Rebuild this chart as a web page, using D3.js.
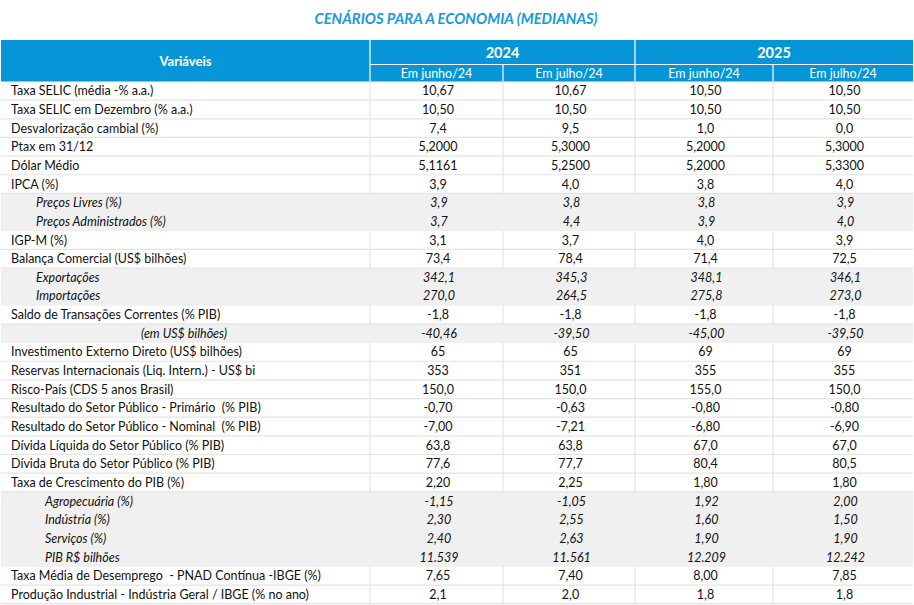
<!DOCTYPE html>
<html><head><meta charset="utf-8">
<script src="https://cdn.jsdelivr.net/npm/d3@7"></script>
<style>body{margin:0;background:#fff}svg{display:block}</style>
</head><body>
<svg id="c" width="914" height="605"></svg>
<script>
const title = "CENÁRIOS PARA A ECONOMIA (MEDIANAS)";
const years = ["2024", "2025"];
const subHeaders = ["Em junho/24", "Em julho/24", "Em junho/24", "Em julho/24"];
const labels = [
  "Taxa SELIC (média -% a.a.)",
  "Taxa SELIC em Dezembro (% a.a.)",
  "Desvalorização cambial (%)",
  "Ptax em 31/12",
  "Dólar Médio",
  "IPCA (%)",
  "Preços Livres (%)",
  "Preços Administrados (%)",
  "IGP-M (%)",
  "Balança Comercial (US$ bilhões)",
  "Exportações",
  "Importações",
  "Saldo de Transações Correntes (% PIB)",
  "(em US$ bilhões)",
  "Investimento Externo Direto (US$ bilhões)",
  "Reservas Internacionais (Liq. Intern.) - US$ bi",
  "Risco-País (CDS 5 anos Brasil)",
  "Resultado do Setor Público - Primário  (% PIB)",
  "Resultado do Setor Público - Nominal  (% PIB)",
  "Dívida Líquida do Setor Público (% PIB)",
  "Dívida Bruta do Setor Público (% PIB)",
  "Taxa de Crescimento do PIB (%)",
  "Agropecuária (%)",
  "Indústria (%)",
  "Serviços (%)",
  "PIB R$ bilhões",
  "Taxa Média de Desemprego  - PNAD Contínua -IBGE (%)",
  "Produção Industrial - Indústria Geral / IBGE (% no ano)"
];
// indent level: 0 main, 1 sub (italic), 2 sub deeper (italic), 3 far indent (italic)
const rowKind = [0,0,0,0,0,0,1,1,0,0,1,1,0,3,0,0,0,0,0,0,0,0,2,2,2,2,0,0];
const col2024Jun = ["10,67","10,50","7,4","5,2000","5,1161","3,9","3,9","3,7","3,1","73,4","342,1","270,0","-1,8","-40,46","65","353","150,0","-0,70","-7,00","63,8","77,6","2,20","-1,15","2,30","2,40","11.539","7,65","2,1"];
const col2024Jul = ["10,67","10,50","9,5","5,3000","5,2500","4,0","3,8","4,4","3,7","78,4","345,3","264,5","-1,8","-39,50","65","351","150,0","-0,63","-7,21","63,8","77,7","2,25","-1,05","2,55","2,63","11.561","7,40","2,0"];
const col2025Jun = ["10,50","10,50","1,0","5,2000","5,2000","3,8","3,8","3,9","4,0","71,4","348,1","275,8","-1,8","-45,00","69","355","155,0","-0,80","-6,80","67,0","80,4","1,80","1,92","1,60","1,90","12.209","8,00","1,8"];
const col2025Jul = ["10,50","10,50","0,0","5,3000","5,3300","4,0","3,9","4,0","3,9","72,5","346,1","273,0","-1,8","-39,50","69","355","150,0","-0,80","-6,90","67,0","80,5","1,80","2,00","1,50","1,90","12.242","7,85","1,8"];
const valueCols = [col2024Jun, col2024Jul, col2025Jun, col2025Jul];

const svg = d3.select("#c");
const FONT = "Lato, 'Open Sans', sans-serif";
const BLUE = "#0696d7";
const GRID = "#e4e4e4";
const SHADE = "#f0f0f0";

const left = 1, right = 913;
const colEdges = [left, 370, 503, 635, 773, right];
const headTop = 40, headMid = 64.5, headBot = 81.5;
const rowH = 18.65;

const y = d3.scaleBand().domain(d3.range(labels.length)).range([headBot, headBot + rowH*labels.length]).paddingInner(0).paddingOuter(0);

// title
svg.append("text").attr("x", 456).attr("y", 24).attr("text-anchor","middle")
  .attr("font-family", FONT).attr("font-size", 14.8).attr("font-weight","bold").attr("font-style","italic")
  .attr("fill", "#1a9ad6").text(title);

// header
svg.append("rect").attr("x", left).attr("y", headTop).attr("width", right-left).attr("height", headBot-headTop).attr("fill", BLUE);
const hl = svg.append("g").attr("stroke","#fff").attr("stroke-width",1.2);
[370, 635].forEach(x => hl.append("line").attr("x1",x).attr("x2",x).attr("y1",headTop).attr("y2",headBot));
[503, 773].forEach(x => hl.append("line").attr("x1",x).attr("x2",x).attr("y1",headMid).attr("y2",headBot));
hl.append("line").attr("x1",370).attr("x2",right).attr("y1",headMid).attr("y2",headMid);

svg.append("text").attr("x",(left+370)/2).attr("y",66).attr("text-anchor","middle")
  .attr("font-family",FONT).attr("font-size",13).attr("font-weight","bold").attr("fill","#fff").text("Variáveis");
years.forEach((yr,i)=>{
  svg.append("text").attr("x",(colEdges[1+2*i]+colEdges[3+2*i])/2).attr("y",58).attr("text-anchor","middle")
    .attr("font-family",FONT).attr("font-size",14.5).attr("font-weight","bold").attr("fill","#fff").text(yr);
});
subHeaders.forEach((s,i)=>{
  svg.append("text").attr("x",(colEdges[1+i]+colEdges[2+i])/2).attr("y",77.5).attr("text-anchor","middle")
    .attr("font-family",FONT).attr("font-size",12.5).attr("fill","#fff").text(s);
});

// shading
const rows = svg.append("g");
labels.forEach((lab,i)=>{
  if (rowKind[i] > 0) rows.append("rect").attr("x",left).attr("y",y(i)).attr("width",right-left).attr("height",y.bandwidth()+0.5).attr("fill",SHADE);
});

// grid lines for non-shaded rows
const grid = svg.append("g").attr("stroke",GRID).attr("stroke-width",1.2);
labels.forEach((lab,i)=>{
  if (rowKind[i] === 0) {
    colEdges.slice(1,5).forEach(x => grid.append("line").attr("x1",x).attr("x2",x).attr("y1",y(i)).attr("y2",y(i)+y.bandwidth()));
    grid.append("line").attr("x1",left).attr("x2",right).attr("y1",y(i)+y.bandwidth()).attr("y2",y(i)+y.bandwidth());
  }
});

// labels
const indentX = [11, 36, 45, 141];
labels.forEach((lab,i)=>{
  const k = rowKind[i];
  svg.append("text").attr("x", indentX[k]).attr("y", y(i)+y.bandwidth()/2+4.5)
    .attr("font-family",FONT).attr("font-size",12.5).attr("font-style", k>0?"italic":"normal")
    .attr("fill","#111").attr("xml:space","preserve").style("white-space","pre").text(lab);
});

// values
valueCols.forEach((col,c)=>{
  const cx = (colEdges[1+c]+colEdges[2+c])/2 + 1.5;
  col.forEach((v,i)=>{
    const k = rowKind[i];
    svg.append("text").attr("x", cx + (k>0?1:0)).attr("y", y(i)+y.bandwidth()/2+4.5).attr("text-anchor","middle")
      .attr("font-family",FONT).attr("font-size",12.5).attr("font-style", k>0?"italic":"normal")
      .attr("fill","#111").text(v);
  });
});
</script>
</body></html>
